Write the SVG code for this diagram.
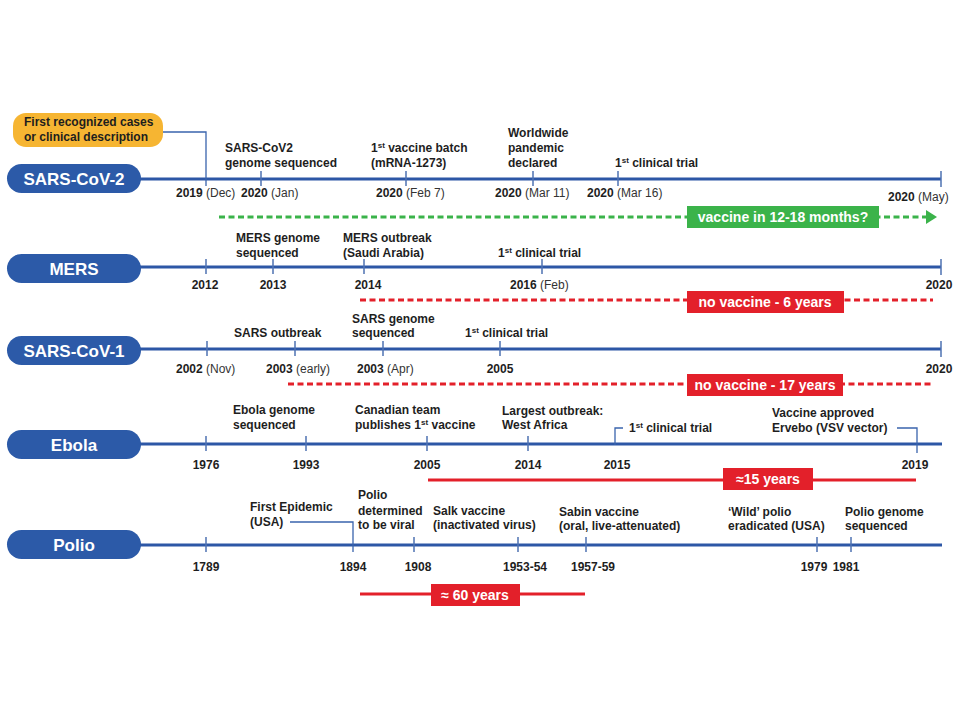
<svg xmlns="http://www.w3.org/2000/svg" width="960" height="720" viewBox="0 0 960 720">
<style>
text{font-family:"Liberation Sans",Arial,sans-serif;fill:#1e1e1e}
.lb{font-size:12px;font-weight:bold}
.yr{font-size:12px;font-weight:bold}
.rg{font-weight:normal;fill:#333}
.sup{font-size:8px}
.pill{fill:#2c5aa8}
.pt{font-size:17px;font-weight:bold;fill:#fff;text-anchor:middle}
.axis{stroke:#2d57a6;stroke-width:3;fill:none}
.tick{stroke:#4f73b3;stroke-width:1.5;fill:none}
.conn{stroke:#3a64ad;stroke-width:1.3;fill:none}
.rdash{stroke:#e3202a;stroke-width:3;stroke-dasharray:6 3.5;fill:none}
.gdash{stroke:#3bb34a;stroke-width:3;stroke-dasharray:6 3.5;fill:none}
.rline{stroke:#e3202a;stroke-width:3;fill:none}
.rbox{fill:#e3202a}
.gbox{fill:#3bb34a}
.bt{font-size:14px;font-weight:bold;fill:#fff;text-anchor:middle}
.mid{text-anchor:middle}
</style>
<rect width="960" height="720" fill="#fff"/>

<g id="connectors">
  <!-- axes -->
  <line class="axis" x1="140" y1="179" x2="941" y2="179"/>
  <line class="axis" x1="140" y1="267" x2="941" y2="267"/>
  <line class="axis" x1="140" y1="349" x2="941" y2="349"/>
  <line class="axis" x1="140" y1="444" x2="942" y2="444"/>
  <line class="axis" x1="140" y1="545" x2="942" y2="545"/>
  <!-- SARS-CoV-2 ticks -->
  <path class="tick" d="M261,171V186M406,171V186M533,171V186M618,171V186M941,171V187"/>
  <path class="conn" d="M163,132H206V186"/>
  <!-- MERS ticks -->
  <path class="tick" d="M206,259V274M273,259V274M364,259V274M542,259V274M941,259V275"/>
  <!-- SARS-CoV-1 ticks -->
  <path class="tick" d="M207,341V356M295,341V356M383,341V356M500,341V356M941,341V357"/>
  <!-- Ebola ticks -->
  <path class="tick" d="M206,436V451M306,436V451M427,436V451M528,436V451"/>
  <path class="conn" d="M623,428H615V445"/>
  <path class="conn" d="M897,428H917V453"/>
  <!-- Polio ticks -->
  <path class="tick" d="M206,537V552M414,537V552M518,537V552M586,537V552M817,537V552M851,537V552"/>
  <path class="conn" d="M290,522H353V552"/>
  <!-- spans -->
  <line class="gdash" x1="219" y1="217" x2="926" y2="217"/>
  <polygon points="926,210 937,217 926,224" fill="#3bb34a"/>
  <line class="rdash" x1="360" y1="300" x2="933" y2="300"/>
  <line class="rdash" x1="288" y1="384" x2="933" y2="384"/>
  <line class="rline" x1="428" y1="480" x2="916" y2="480"/>
  <line class="rline" x1="360" y1="594" x2="585" y2="594"/>
</g>

<g id="node-first-cases">
  <rect x="13" y="113" width="150" height="34" rx="13" fill="#f6b532"/>
  <text class="lb" x="24" y="126">First recognized cases</text>
  <text class="lb" x="24" y="141">or clinical description</text>
</g>

<g id="row-sars-cov-2">
  <rect class="pill" x="7" y="164" width="134" height="29" rx="14.5"/>
  <text class="pt" x="74" y="185">SARS-CoV-2</text>
  <text class="lb" x="225" y="152">SARS-CoV2</text>
  <text class="lb" x="225" y="167">genome sequenced</text>
  <text class="lb" x="371" y="152">1<tspan class="sup" dy="-4">st</tspan><tspan dy="4"> vaccine batch</tspan></text>
  <text class="lb" x="371" y="167">(mRNA-1273)</text>
  <text class="lb" x="508" y="137">Worldwide</text>
  <text class="lb" x="508" y="152">pandemic</text>
  <text class="lb" x="508" y="167">declared</text>
  <text class="lb" x="615" y="167">1<tspan class="sup" dy="-4">st</tspan><tspan dy="4"> clinical trial</tspan></text>
  <text class="yr" x="176" y="197">2019 <tspan class="rg">(Dec)</tspan></text>
  <text class="yr" x="241" y="197">2020 <tspan class="rg">(Jan)</tspan></text>
  <text class="yr" x="376" y="197">2020 <tspan class="rg">(Feb 7)</tspan></text>
  <text class="yr" x="495" y="197">2020 <tspan class="rg">(Mar 11)</tspan></text>
  <text class="yr" x="587" y="197">2020 <tspan class="rg">(Mar 16)</tspan></text>
  <text class="yr" x="888" y="201">2020 <tspan class="rg">(May)</tspan></text>
  <rect class="gbox" x="687" y="206" width="192" height="22"/>
  <text class="bt" x="783" y="222">vaccine in 12-18 months?</text>
</g>

<g id="row-mers">
  <rect class="pill" x="7" y="254" width="134" height="29" rx="14.5"/>
  <text class="pt" x="74" y="275">MERS</text>
  <text class="lb" x="236" y="242">MERS genome</text>
  <text class="lb" x="236" y="257">sequenced</text>
  <text class="lb" x="343" y="242">MERS outbreak</text>
  <text class="lb" x="343" y="257">(Saudi Arabia)</text>
  <text class="lb" x="498" y="257">1<tspan class="sup" dy="-4">st</tspan><tspan dy="4"> clinical trial</tspan></text>
  <text class="yr mid" x="205" y="289">2012</text>
  <text class="yr mid" x="273" y="289">2013</text>
  <text class="yr mid" x="368" y="289">2014</text>
  <text class="yr" x="510" y="289">2016 <tspan class="rg">(Feb)</tspan></text>
  <text class="yr mid" x="939" y="289">2020</text>
  <rect class="rbox" x="687" y="291" width="157" height="22"/>
  <text class="bt" x="765" y="307">no vaccine - 6 years</text>
</g>

<g id="row-sars-cov-1">
  <rect class="pill" x="7" y="336" width="134" height="29" rx="14.5"/>
  <text class="pt" x="74" y="357">SARS-CoV-1</text>
  <text class="lb" x="234" y="337">SARS outbreak</text>
  <text class="lb" x="352" y="323">SARS genome</text>
  <text class="lb" x="352" y="337">sequenced</text>
  <text class="lb" x="465" y="337">1<tspan class="sup" dy="-4">st</tspan><tspan dy="4"> clinical trial</tspan></text>
  <text class="yr" x="176" y="373">2002 <tspan class="rg">(Nov)</tspan></text>
  <text class="yr" x="266" y="373">2003 <tspan class="rg">(early)</tspan></text>
  <text class="yr" x="357" y="373">2003 <tspan class="rg">(Apr)</tspan></text>
  <text class="yr mid" x="500" y="373">2005</text>
  <text class="yr mid" x="939" y="373">2020</text>
  <rect class="rbox" x="687" y="374" width="156" height="22"/>
  <text class="bt" x="765" y="390">no vaccine - 17 years</text>
</g>

<g id="row-ebola">
  <rect class="pill" x="7" y="430" width="134" height="29" rx="14.5"/>
  <text class="pt" x="74" y="451">Ebola</text>
  <text class="lb" x="233" y="414">Ebola genome</text>
  <text class="lb" x="233" y="429">sequenced</text>
  <text class="lb" x="355" y="414">Canadian team</text>
  <text class="lb" x="355" y="429">publishes 1<tspan class="sup" dy="-4">st</tspan><tspan dy="4"> vaccine</tspan></text>
  <text class="lb" x="502" y="415">Largest outbreak:</text>
  <text class="lb" x="502" y="429">West Africa</text>
  <text class="lb" x="629" y="432">1<tspan class="sup" dy="-4">st</tspan><tspan dy="4"> clinical trial</tspan></text>
  <text class="lb" x="772" y="417">Vaccine approved</text>
  <text class="lb" x="772" y="432">Ervebo (VSV vector)</text>
  <text class="yr mid" x="206" y="469">1976</text>
  <text class="yr mid" x="306" y="469">1993</text>
  <text class="yr mid" x="427" y="469">2005</text>
  <text class="yr mid" x="528" y="469">2014</text>
  <text class="yr mid" x="617" y="469">2015</text>
  <text class="yr mid" x="915" y="469">2019</text>
  <rect class="rbox" x="723" y="468" width="90" height="22"/>
  <text class="bt" x="768" y="484">≈15 years</text>
</g>

<g id="row-polio">
  <rect class="pill" x="7" y="530" width="134" height="29" rx="14.5"/>
  <text class="pt" x="74" y="551">Polio</text>
  <text class="lb" x="250" y="511">First Epidemic</text>
  <text class="lb" x="250" y="526">(USA)</text>
  <text class="lb" x="358" y="499">Polio</text>
  <text class="lb" x="358" y="515">determined</text>
  <text class="lb" x="358" y="529">to be viral</text>
  <text class="lb" x="433" y="515">Salk vaccine</text>
  <text class="lb" x="433" y="529">(inactivated virus)</text>
  <text class="lb" x="559" y="516">Sabin vaccine</text>
  <text class="lb" x="559" y="530">(oral, live-attenuated)</text>
  <text class="lb" x="728" y="516">‘Wild’ polio</text>
  <text class="lb" x="728" y="530">eradicated (USA)</text>
  <text class="lb" x="845" y="516">Polio genome</text>
  <text class="lb" x="845" y="530">sequenced</text>
  <text class="yr mid" x="206" y="571">1789</text>
  <text class="yr mid" x="353" y="571">1894</text>
  <text class="yr mid" x="418" y="571">1908</text>
  <text class="yr mid" x="525" y="571">1953-54</text>
  <text class="yr mid" x="593" y="571">1957-59</text>
  <text class="yr mid" x="814" y="571">1979</text>
  <text class="yr mid" x="846" y="571">1981</text>
  <rect class="rbox" x="431" y="584" width="89" height="22"/>
  <text class="bt" x="475" y="600">≈ 60 years</text>
</g>
</svg>
